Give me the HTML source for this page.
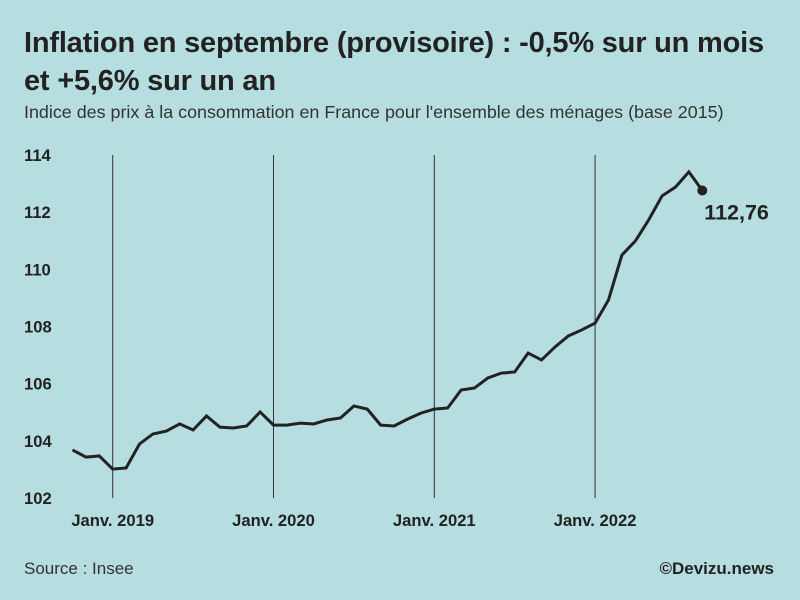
<!DOCTYPE html>
<html><head><meta charset="utf-8"><style>
body{margin:0;width:800px;height:600px;background:#b6dddf;font-family:"Liberation Sans",sans-serif;color:#222;overflow:hidden;position:relative}
.t{position:absolute;left:24px;top:24px;font-size:29px;font-weight:bold;line-height:38px;letter-spacing:-0.2px}
.s{position:absolute;left:24px;top:102px;font-size:17.9px;color:#333}
.src{position:absolute;left:24px;top:559px;font-size:17px;color:#333}
.cr{position:absolute;right:26px;top:559px;font-size:17px;font-weight:bold}
svg{position:absolute;left:0;top:0}
</style></head><body>
<div class="t">Inflation en septembre (provisoire) : -0,5% sur un mois<br>et +5,6% sur un an</div>
<div class="s">Indice des prix à la consommation en France pour l'ensemble des ménages (base 2015)</div>
<div class="src">Source : Insee</div>
<div class="cr">©Devizu.news</div>
<svg id="c" width="800" height="600"></svg>
<script>
const values=[103.68,103.43,103.47,103.01,103.05,103.89,104.24,104.34,104.59,104.38,104.87,104.48,104.45,104.52,105.01,104.55,104.55,104.62,104.59,104.73,104.80,105.22,105.11,104.55,104.52,104.76,104.97,105.11,105.15,105.78,105.85,106.20,106.37,106.41,107.07,106.83,107.28,107.67,107.88,108.12,108.93,110.50,110.99,111.73,112.57,112.88,113.41,112.76];
const yTicks=[102,104,106,108,110,112,114];
const xTickLabels=["Janv. 2019","Janv. 2020","Janv. 2021","Janv. 2022"];
const xTickIdx=[3,15,27,39];
const lastLabel="112,76";
const ns="http://www.w3.org/2000/svg",svg=document.getElementById('c');
const x=i=>72.5+i*13.4, y=v=>498-(v-102)*28.58;
function mk(t,a){const e=document.createElementNS(ns,t);for(const k in a)e.setAttribute(k,a[k]);svg.appendChild(e);return e;}
xTickIdx.forEach((idx,k)=>{
 const l=mk('line',{x1:x(idx),x2:x(idx),y1:155,y2:498,stroke:'#333','stroke-width':1});
 
 
 const t=mk('text',{x:x(idx),y:526,'text-anchor':'middle','font-size':16.6,'font-weight':'bold',fill:'#222'});
 t.textContent=xTickLabels[k];
 
 
});
yTicks.forEach(v=>{
 const t=mk('text',{x:24,y:y(v)+6,'font-size':16.6,'font-weight':'bold',fill:'#222'});
 t.textContent=v;
 
 
});
const p=mk('polyline',{points:values.map((v,i)=>x(i)+','+y(v)).join(' '),fill:'none',stroke:'#222','stroke-width':3,'stroke-linejoin':'miter'});


const n=values.length-1;
const d=mk('circle',{cx:x(n),cy:y(values[n]),r:5,fill:'#222'});


const lt=mk('text',{x:x(n)+2,y:y(values[n])+29,'font-size':21.5,'font-weight':'bold',fill:'#222'});
lt.textContent=lastLabel;


</script>
</body></html>
